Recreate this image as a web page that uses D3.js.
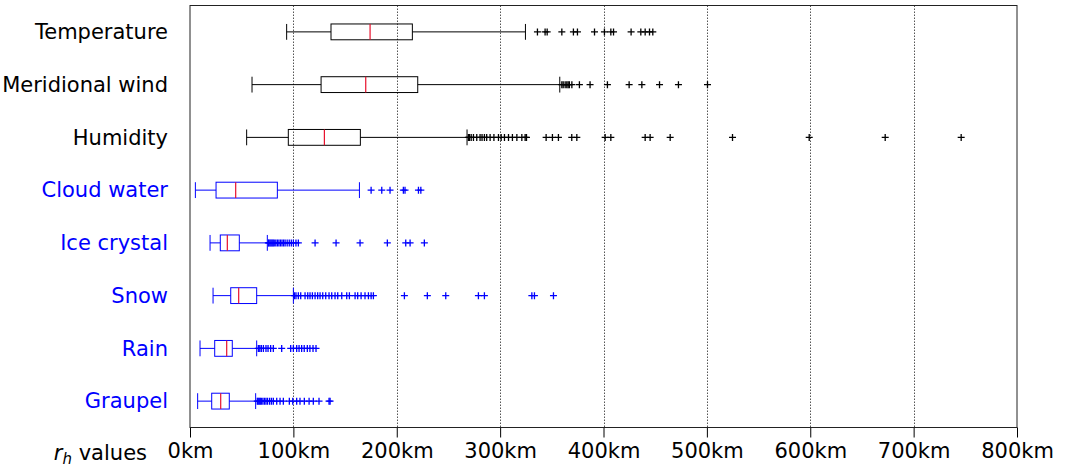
<!DOCTYPE html>
<html>
<head>
<meta charset="utf-8">
<script src="https://cdn.jsdelivr.net/npm/d3@7"></script>
<style>
  html, body { margin: 0; padding: 0; background: #fff; }
  svg { display: block; font-family: "DejaVu Sans", sans-serif; }
</style>
</head>
<body>
<svg id="chart" width="1066" height="468"></svg>
<script>
// Horizontal length-scale distributions, one box per variable (values in km)
const categories = ["Temperature", "Meridional wind", "Humidity", "Cloud water",
                    "Ice crystal", "Snow", "Rain", "Graupel"];
const whiskerLow  = [93.5, 60.0, 54.8, 5.2, 19.4, 22.3, 9.7, 7.4];
const quartile1   = [136.4, 126.8, 95.1, 25.2, 29.3, 39.4, 23.9, 21.0];
const medians     = [174.2, 170.0, 130.0, 44.2, 36.1, 47.1, 35.5, 29.7];
const quartile3   = [215.1, 220.3, 164.8, 84.5, 47.7, 64.5, 40.9, 38.0];
const whiskerHigh = [324.5, 357.7, 268.0, 163.9, 74.8, 100.0, 64.5, 63.5];
const outliers = [
  [336.1, 343.5, 345.5, 359.7, 370.9, 374.8, 391.3, 400.9, 407.1, 409.7, 426.7, 436.1, 440.3, 444.5, 447.7],
  [359.7, 361.0, 362.9, 364.5, 365.8, 367.0, 369.4, 376.7, 387.0, 403.8, 424.8, 437.1, 454.2, 472.5, 500.6],
  [269.3, 270.3, 272.0, 274.2, 277.4, 280.6, 282.5, 284.8, 287.0, 290.3, 294.0, 298.4, 301.0, 304.2,
   308.1, 311.9, 316.2, 321.0, 324.2, 325.5, 344.5, 350.6, 356.4, 369.3, 374.2, 401.6, 407.1,
   440.3, 445.1, 464.5, 524.8, 599.0, 672.5, 746.0],
  [175.2, 185.5, 193.5, 206.4, 208.0, 221.0, 223.3],
  [75.8, 76.5, 77.5, 78.5, 79.5, 80.5, 81.5, 83.0, 84.5, 86.0, 87.5, 89.0, 90.5, 92.0, 94.0, 96.0,
   98.0, 100.0, 102.5, 104.8, 121.0, 141.3, 164.5, 190.9, 208.7, 212.9, 226.7],
  [101.0, 102.5, 104.8, 107.1, 111.3, 113.9, 116.1, 118.4, 121.0, 123.5, 125.8, 128.4, 131.3, 134.5,
   137.1, 140.3, 142.9, 146.8, 151.6, 154.2, 159.7, 162.2, 165.5, 169.3, 172.6, 175.2, 177.4,
   207.4, 229.6, 247.4, 279.0, 284.8, 330.7, 333.2, 351.6],
  [66.1, 67.5, 69.0, 71.0, 73.5, 75.5, 78.0, 80.6, 88.7, 97.4, 100.0, 103.2, 105.5, 108.0, 110.5,
   113.5, 116.0, 119.0, 121.9],
  [65.1, 66.0, 67.0, 68.0, 69.0, 70.5, 72.0, 73.5, 75.0, 77.0, 78.8, 80.6, 83.9, 87.1, 90.3, 96.1,
   99.4, 103.2, 106.4, 110.6, 115.2, 119.3, 124.8, 134.5, 135.5]
];
const groupColors = ["#000000", "#000000", "#000000", "#0000ff", "#0000ff", "#0000ff", "#0000ff", "#0000ff"];
const xTicks = [0, 100, 200, 300, 400, 500, 600, 700, 800];

(function draw() {
  const svg = d3.select("#chart");
  const plotLeft = 190, plotRight = 1017, plotTop = 5.5, plotBottom = 427.5;
  const fontSize = 21;

  const x = d3.scaleLinear().domain([0, 800]).range([plotLeft, plotRight]);
  const y = d3.scaleLinear().domain([0.5, 8.5]).range([plotTop, plotBottom]);
  const boxHalf = y(1.15) - y(1); // box half-height (width 0.3 in position units)

  // dotted vertical grid
  svg.append("g")
    .selectAll("line")
    .data(xTicks.filter(t => t > 0 && t < 800))
    .join("line")
    .attr("x1", d => Math.round(x(d)) + 0.5).attr("x2", d => Math.round(x(d)) + 0.5)
    .attr("y1", plotTop).attr("y2", plotBottom)
    .attr("stroke", "#555").attr("stroke-width", 1)
    .attr("stroke-dasharray", "1.5,1.5");

  // x axis
  const xAxis = svg.append("g")
    .attr("transform", `translate(0,${plotBottom})`)
    .call(d3.axisBottom(x).tickValues(xTicks).tickFormat(d => d + "km").tickSize(10).tickPadding(6));
  xAxis.select(".domain").remove();
  xAxis.selectAll(".tick line").attr("stroke", "#000").attr("stroke-width", 1);
  xAxis.selectAll(".tick text").attr("font-size", fontSize).attr("fill", "#000")
    .attr("font-family", "DejaVu Sans, sans-serif");

  // axis label with italic subscripted symbol
  const lab = svg.append("text")
    .attr("x", 147).attr("y", 460)
    .attr("text-anchor", "end")
    .attr("font-size", fontSize).attr("fill", "#000");
  lab.append("tspan").attr("font-style", "italic").text("r");
  lab.append("tspan").attr("font-style", "italic").attr("font-size", 15).attr("dy", 4).text("h");
  lab.append("tspan").attr("dy", -4).text(" values");

  // category labels
  svg.append("g")
    .selectAll("text")
    .data(categories)
    .join("text")
    .attr("x", 168)
    .attr("y", (d, i) => y(i + 1))
    .attr("dy", "0.35em")
    .attr("text-anchor", "end")
    .attr("font-size", fontSize)
    .attr("fill", (d, i) => groupColors[i])
    .text(d => d);

  // boxes
  const boxes = svg.append("g")
    .selectAll("g")
    .data(categories.map((c, i) => i))
    .join("g");

  boxes.each(function(i) {
    const g = d3.select(this);
    const cy = y(i + 1);
    const col = groupColors[i];
    // whiskers
    g.append("line").attr("x1", x(whiskerLow[i])).attr("x2", x(quartile1[i]))
      .attr("y1", cy).attr("y2", cy).attr("stroke", col).attr("stroke-width", 1);
    g.append("line").attr("x1", x(quartile3[i])).attr("x2", x(whiskerHigh[i]))
      .attr("y1", cy).attr("y2", cy).attr("stroke", col).attr("stroke-width", 1);
    // caps
    [whiskerLow[i], whiskerHigh[i]].forEach(v => {
      g.append("line").attr("x1", x(v)).attr("x2", x(v))
        .attr("y1", cy - boxHalf).attr("y2", cy + boxHalf)
        .attr("stroke", col).attr("stroke-width", 1);
    });
    // box
    g.append("rect")
      .attr("x", x(quartile1[i])).attr("y", cy - boxHalf)
      .attr("width", x(quartile3[i]) - x(quartile1[i])).attr("height", 2 * boxHalf)
      .attr("fill", "none").attr("stroke", col).attr("stroke-width", 1);
    // median
    g.append("line").attr("x1", x(medians[i])).attr("x2", x(medians[i]))
      .attr("y1", cy - boxHalf).attr("y2", cy + boxHalf)
      .attr("stroke", "#e8102c").attr("stroke-width", 1.2);
    // outliers as plus markers
    const arm = 3.5;
    g.selectAll("path.flier")
      .data(outliers[i])
      .join("path")
      .attr("class", "flier")
      .attr("d", v => `M${x(v) - arm},${cy}H${x(v) + arm}M${x(v)},${cy - arm}V${cy + arm}`)
      .attr("stroke", col).attr("stroke-width", 1.3).attr("fill", "none");
  });

  // frame
  svg.append("rect")
    .attr("x", plotLeft).attr("y", plotTop)
    .attr("width", plotRight - plotLeft).attr("height", plotBottom - plotTop)
    .attr("fill", "none").attr("stroke", "#222").attr("stroke-width", 1);
})();
</script>
</body>
</html>
